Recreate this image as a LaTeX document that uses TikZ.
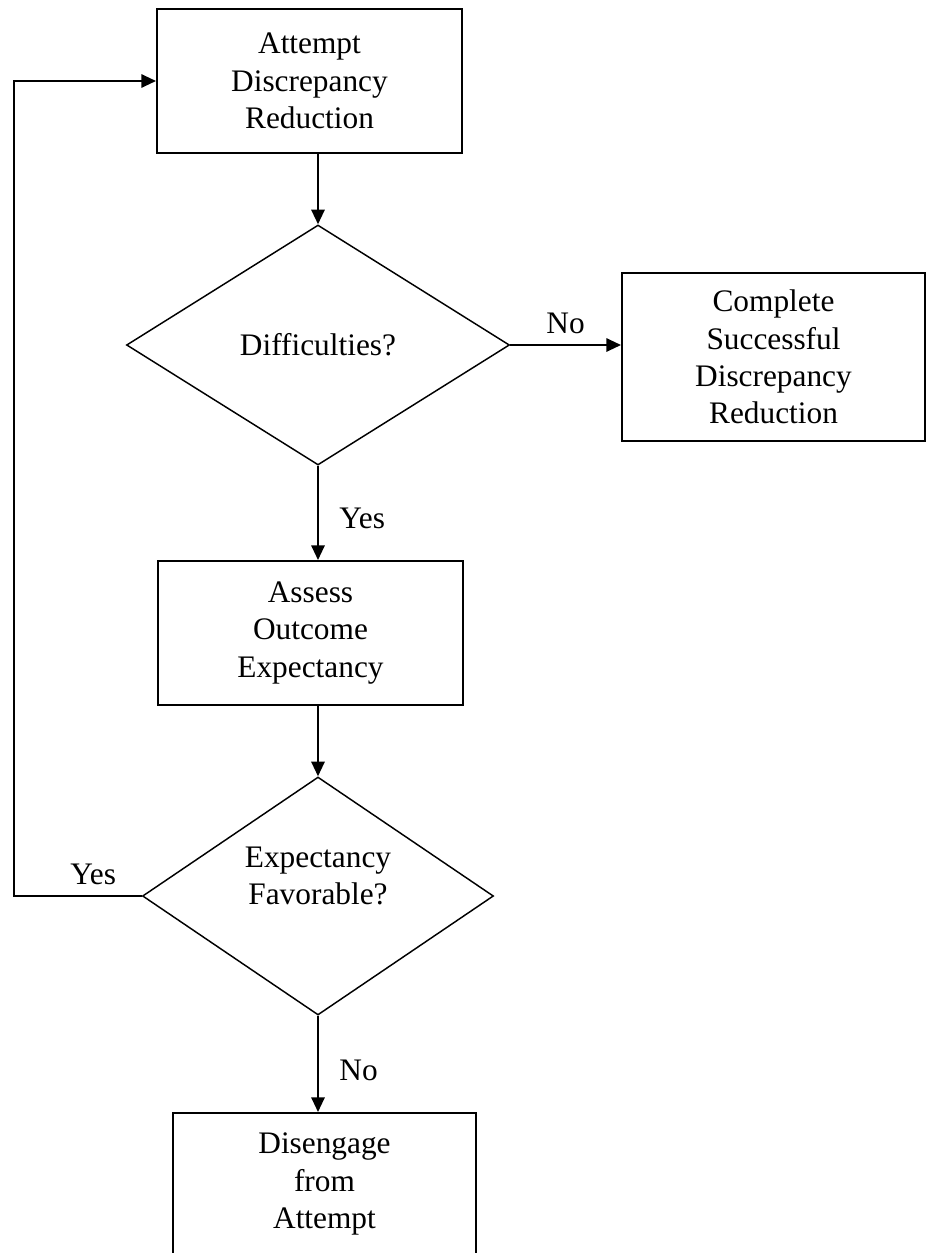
\documentclass[tikz,border=0pt]{standalone}
\usepackage{fontspec}
\setmainfont{Liberation Serif}
\usetikzlibrary{shapes.geometric,arrows.meta}

\begin{document}
\begin{tikzpicture}[x=0.75pt,y=-0.75pt,
	font=\fontsize{23.5}{28}\selectfont,
	block/.style={draw,line width=1.5pt,align=center,inner sep=2pt},
	decision/.style={draw,diamond,line width=1.1pt,align=center,inner sep=0pt},
	arr/.style={line width=1.5pt,-{Triangle[length=11pt,width=10pt]}},
	tag/.style={inner sep=7.8pt}]
	\useasboundingbox (0,0) rectangle (926,1253);
	\clip (0,0) rectangle (926,1253);
	\node[block,minimum width=228.75pt,minimum height=108pt] (att) at (309.5,81) {Attempt\\Discrepancy\\Reduction};
	\node[block,minimum width=227.25pt,minimum height=126pt] (comp) at (773.5,357) {Complete\\Successful\\Discrepancy\\Reduction};
	\node[block,minimum width=228.75pt,minimum height=108pt] (assess) at (310.5,633) {Assess\\Outcome\\Expectancy};
	\node[block,minimum width=227.25pt,minimum height=106.5pt] (dis) at (324.5,1184) {Disengage\\from\\Attempt};
	\node[decision,minimum width=287.25pt,minimum height=180pt] (dif) at (318,345) {Difficulties?};
	\node[decision,minimum width=263.25pt,minimum height=178.5pt] (exp) at (318,896) {};
	\node[align=center] (exptxt) at (318,876) {Expectancy\\Favorable?};
	\coordinate (back) at (14,896);
	\draw[arr] (att.south -| dif.north) -- (dif.north);
	\draw[arr] (dif.east) -- node[tag,above] (nodif) {No} (dif.east -| comp.west);
	\draw[arr] (dif.south) -- node[tag,right,xshift=7.5pt,yshift=-4pt] (yesdif) {Yes} (dif.south |- assess.north);
	\draw[arr] (assess.south -| exp.north) -- (exp.north);
	\draw[arr] (exp.west) -- node[tag,above,pos=0.38] (yesexp) {Yes} (back) |- (att.west);
	\draw[arr] (exp.south) -- node[tag,right,xshift=7.5pt,yshift=-5pt] (noexp) {No} (exp.south |- dis.north);
\end{tikzpicture}
\end{document}
